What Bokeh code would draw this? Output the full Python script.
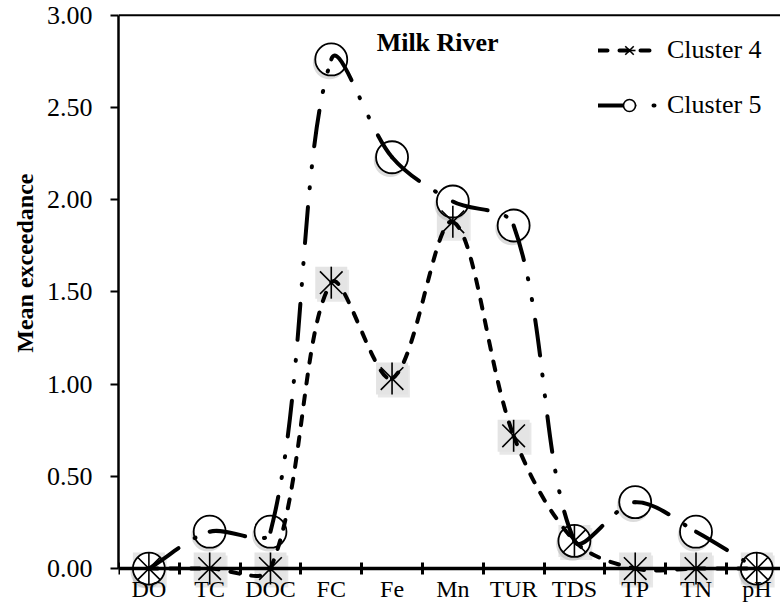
import math
from bokeh.plotting import figure
from bokeh.models import (FixedTicker, NumeralTickFormatter, Span, Label, Legend,
                          LegendItem, ColumnDataSource, Range1d, Title)
from bokeh.transform import dodge
from bokeh.embed import file_html
from bokeh.resources import INLINE

# ---------------- data ----------------
categories = ["DO", "TC", "DOC", "FC", "Fe", "Mn", "TUR", "TDS", "TP", "TN", "pH"]
cluster4 = [0.00, 0.00, 0.00, 1.55, 1.03, 1.88, 0.72, 0.15, 0.00, 0.00, 0.00]
cluster5 = [0.00, 0.20, 0.20, 2.76, 2.23, 1.99, 1.86, 0.15, 0.36, 0.20, 0.00]
y_ticks = [0.0, 0.5, 1.0, 1.5, 2.0, 2.5, 3.0]
title_text = "Milk River"
y_label = "Mean exceedance"

xs = [i + 0.5 for i in range(len(categories))]
boundaries = [i for i in range(len(categories) + 1)]

SERIF = "Liberation Serif"

p = figure(width=780, height=612, output_backend="svg", toolbar_location=None,
           x_range=Range1d(0, 10.89), y_range=Range1d(-0.2, 3.02),
           min_border_left=118, min_border_right=0, min_border_top=11,
           min_border_bottom=7)
p.outline_line_color = None
p.grid.visible = False
p.background_fill_color = "white"

# ---------------- smoothing (Excel-like bezier) ----------------
PX_X, PX_Y = 60.8, 184.3


def bezier_source(xv, yv):
    n = len(xv)
    px = [x * PX_X for x in xv]
    py = [y * PX_Y for y in yv]

    def dist(i, j):
        return math.hypot(px[i] - px[j], py[i] - py[j])

    out = dict(x0=[], y0=[], x1=[], y1=[], cx0=[], cy0=[], cx1=[], cy1=[])
    for i in range(n - 1):
        i0 = max(i - 1, 0)
        i3 = min(i + 2, n - 1)
        d01, d12, d23 = dist(i0, i), dist(i, i + 1), dist(i + 1, i3)
        f1 = d12 / (3 * (d01 + d12)) if d01 + d12 > 0 else 0
        f2 = d12 / (3 * (d12 + d23)) if d12 + d23 > 0 else 0
        c0x = px[i] + (px[i + 1] - px[i0]) * f1
        c0y = py[i] + (py[i + 1] - py[i0]) * f1
        c1x = px[i + 1] - (px[i3] - px[i]) * f2
        c1y = py[i + 1] - (py[i3] - py[i]) * f2
        out["x0"].append(xv[i]); out["y0"].append(yv[i])
        out["x1"].append(xv[i + 1]); out["y1"].append(yv[i + 1])
        out["cx0"].append(c0x / PX_X); out["cy0"].append(c0y / PX_Y)
        out["cx1"].append(c1x / PX_X); out["cy1"].append(c1y / PX_Y)
    return ColumnDataSource(out)


src4 = ColumnDataSource(dict(x=xs, y=cluster4))
src5 = ColumnDataSource(dict(x=xs, y=cluster5))

DASH4 = "9 12"
DASH5 = "36 19 1 20 1 20"

# asterisk boxes (cluster 4) - drawn first
p.scatter(x=dodge("x", 0.03, range=p.x_range), y=dodge("y", -0.016, range=p.y_range),
          source=src4, marker="square", size=32, fill_color="#bdbdbd",
          fill_alpha=0.35, line_color=None)
p.scatter("x", "y", source=src4, marker="square", size=32, fill_color="#e4e4e4",
          line_color=None)

# circle shadows and circles (cluster 5)
p.scatter(x=dodge("x", -0.03, range=p.x_range), y=dodge("y", -0.018, range=p.y_range),
          source=src5, marker="circle", size=33, fill_color="#9a9a9a",
          fill_alpha=0.35, line_color=None)
p.scatter("x", "y", source=src5, marker="circle", size=32, fill_color="white",
          line_color="black", line_width=1.8)

# asterisk strokes
p.scatter("x", "y", source=src4, marker="x", size=32, line_color="black", line_width=1.6)
p.scatter("x", "y", source=src4, marker="dash", size=32, angle=math.pi / 2,
          line_color="black", line_width=1.6)

# smooth curves
p.bezier(x0="x0", y0="y0", x1="x1", y1="y1", cx0="cx0", cy0="cy0", cx1="cx1", cy1="cy1",
         source=bezier_source(xs, cluster4), line_color="black", line_width=4,
         line_dash=DASH4, line_cap="round")
p.bezier(x0="x0", y0="y0", x1="x1", y1="y1", cx0="cx0", cy0="cy0", cx1="cx1", cy1="cy1",
         source=bezier_source(xs, cluster5), line_color="black", line_width=4,
         line_dash=DASH5, line_cap="round")

# ---------------- axes ----------------
yax = p.yaxis[0]
yax.ticker = FixedTicker(ticks=y_ticks)
yax.formatter = NumeralTickFormatter(format="0.00")
yax.bounds = (0, 3)
yax.axis_line_width = 2.5
yax.axis_line_color = "black"
yax.major_tick_line_width = 2
yax.major_tick_line_color = "black"
yax.major_tick_in = 0
yax.major_tick_out = 8
yax.minor_tick_line_color = None
yax.major_label_text_font = SERIF
yax.major_label_text_font_size = "26px"
yax.major_label_text_color = "black"
yax.major_label_standoff = 18

xax = p.xaxis[0]
xax.fixed_location = 0
xax.ticker = FixedTicker(ticks=xs, minor_ticks=boundaries)
xax.major_label_overrides = {x: c for x, c in zip(xs, categories)}
xax.axis_line_width = 3.5
xax.axis_line_color = "black"
xax.major_tick_line_color = None
xax.major_tick_in = 0
xax.major_tick_out = 0
xax.minor_tick_line_width = 3
xax.minor_tick_line_color = "black"
xax.minor_tick_in = 6
xax.minor_tick_out = 6
xax.major_label_text_font = SERIF
xax.major_label_text_font_size = "24px"
xax.major_label_text_color = "black"
xax.major_label_standoff = 1

p.add_layout(Span(location=3, dimension="width", line_color="black", line_width=2))

# y-axis title (vertical, in the left panel)
p.add_layout(Title(text=y_label, align="right", offset=162, text_font=SERIF,
                   text_font_style="bold", text_font_size="24px", text_color="black",
                   standoff=12), "left")

# chart title
p.add_layout(Label(x=5.25, y=2.85, text=title_text, text_font=SERIF, text_font_style="bold",
                   text_font_size="26px", text_color="black", text_align="center",
                   text_baseline="middle"))

# ---------------- legend ----------------
nan = float("nan")
l4 = p.line([nan], [nan], line_color="black", line_width=4, line_dash=DASH4, line_cap="round")
m4a = p.scatter([nan], [nan], marker="x", line_color="black", line_width=1.6)
m4b = p.scatter([nan], [nan], marker="dash", angle=math.pi / 2, line_color="black", line_width=1.6)
l5 = p.line([nan], [nan], line_color="black", line_width=4, line_dash=DASH5, line_cap="round")
m5 = p.scatter([nan], [nan], marker="circle", fill_color="white", line_color="black", line_width=1.6)

legend = Legend(items=[LegendItem(label="Cluster 4", renderers=[l4, m4a, m4b]),
                       LegendItem(label="Cluster 5", renderers=[l5, m5])],
                location=(480, 485), glyph_width=62, glyph_height=30, label_height=30,
                spacing=25, padding=0, margin=0, border_line_color=None,
                background_fill_alpha=0, label_text_font=SERIF, label_text_color="black",
                label_text_font_size="26px", label_standoff=7)
p.add_layout(legend)

open("out.html", "w").write(file_html(p, INLINE))
